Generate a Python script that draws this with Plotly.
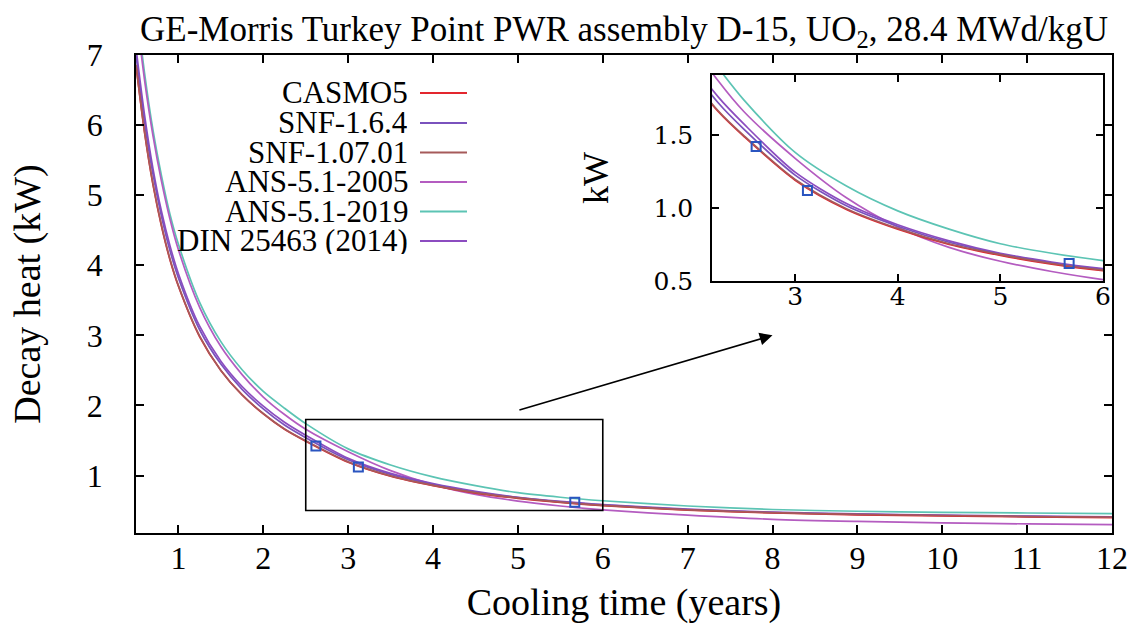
import plotly.graph_objects as go

# ---------------- data ----------------
cooling_time = [0.5, 0.6, 0.7, 0.8, 0.9, 1.0, 1.25, 1.5, 1.75, 2.0, 2.25, 2.5,
                3.0, 3.5, 4.0, 4.5, 5.0, 5.5, 6.0, 7.0, 8.0, 9.0, 10.0, 11.0, 12.0]

casmo5 = [6.85, 5.90, 5.15, 4.56, 4.08, 3.70, 2.98, 2.50, 2.15, 1.88, 1.66, 1.49,
          1.19, 0.99, 0.855, 0.75, 0.675, 0.615, 0.57, 0.505, 0.465, 0.44, 0.425, 0.41, 0.40]
snf_164 = [7.00, 6.05, 5.30, 4.70, 4.21, 3.82, 3.08, 2.59, 2.23, 1.95, 1.72, 1.54,
           1.225, 1.015, 0.875, 0.765, 0.685, 0.625, 0.58, 0.515, 0.472, 0.447, 0.43, 0.416, 0.405]
snf_10701 = [6.86, 5.91, 5.16, 4.57, 4.09, 3.71, 2.99, 2.50, 2.15, 1.885, 1.665, 1.495,
             1.195, 0.995, 0.86, 0.755, 0.68, 0.62, 0.575, 0.51, 0.47, 0.445, 0.43, 0.415, 0.405]
ans_2005 = [7.65, 6.65, 5.85, 5.20, 4.66, 4.22, 3.40, 2.84, 2.44, 2.12, 1.87, 1.66,
            1.34, 1.07, 0.87, 0.73, 0.635, 0.565, 0.51, 0.435, 0.375, 0.345, 0.325, 0.31, 0.30]
ans_2019 = [7.75, 6.75, 5.93, 5.28, 4.73, 4.30, 3.47, 2.91, 2.51, 2.20, 1.96, 1.74,
            1.38, 1.15, 0.98, 0.855, 0.755, 0.69, 0.64, 0.565, 0.515, 0.49, 0.475, 0.465, 0.457]
din_25463 = [7.10, 6.15, 5.38, 4.77, 4.28, 3.88, 3.13, 2.63, 2.27, 1.99, 1.76, 1.575,
             1.245, 1.03, 0.885, 0.775, 0.69, 0.63, 0.585, 0.52, 0.478, 0.452, 0.435, 0.42, 0.41]

meas_x = [2.62, 3.12, 5.67]
meas_y = [1.42, 1.12, 0.62]

series_names = ["CASMO5", "SNF-1.6.4", "SNF-1.07.01", "ANS-5.1-2005", "ANS-5.1-2019", "DIN 25463 (2014)"]
series_values = [casmo5, snf_164, snf_10701, ans_2005, ans_2019, din_25463]
series_colors = ["#e3262e", "#7a52bd", "#a65a5a", "#b45cc0", "#5cc4b4", "#8c4cc0"]

x_ticks = list(range(1, 13))
y_ticks = list(range(1, 8))
inset_x_ticks = [3, 4, 5, 6]
inset_y_ticks = [0.5, 1.0, 1.5]

# zoom box and arrow (data coordinates)
zoom_box = dict(x0=2.5, x1=6.0, y0=0.5, y1=1.8)
arrow_from = (5.0, 1.93)
arrow_to = (8.0, 3.0)

W, H = 1130, 624
SERIF = "Liberation Serif"


def f(size, family=SERIF):
    return dict(family=family, size=size, color="black")


fig = go.Figure()

# draw order: put CASMO5 and SNF-1.07.01 on top
order = [4, 3, 5, 1, 0, 2]
for ax_x, ax_y in (("x", "y"), ("x2", "y2")):
    for i in order:
        fig.add_trace(go.Scatter(
            x=cooling_time, y=series_values[i], mode="lines",
            line=dict(color=series_colors[i], width=1.7, shape="spline", smoothing=0.8),
            name=series_names[i], showlegend=False, xaxis=ax_x, yaxis=ax_y,
            hoverinfo="skip"))
    fig.add_trace(go.Scatter(
        x=meas_x, y=meas_y, mode="markers",
        marker=dict(symbol="square-open", size=9, color="#2a55c0", line=dict(width=2, color="#2a55c0")),
        showlegend=False, xaxis=ax_x, yaxis=ax_y, hoverinfo="skip"))

axis_common = dict(showline=True, linecolor="black", linewidth=1.5, mirror="ticks",
                   ticks="inside", tickcolor="black", tickwidth=1.5, showgrid=False,
                   zeroline=False, automargin=False)

# main plot area: px 136..1112 horizontally, 55..533 vertically
fig.update_layout(
    template="none",
    width=W, height=H, autosize=False,
    font=f(32),
    margin=dict(l=0, r=0, t=0, b=0, pad=0),
    paper_bgcolor="white", plot_bgcolor="white",
    showlegend=False,
    xaxis=dict(domain=[136 / W, 1112 / W], range=[0.5, 12], tickvals=x_ticks,
               ticklen=8, tickfont=f(32), ticklabelstandoff=-4,
               title=dict(text="Cooling time (years)", font=f(38), standoff=17),
               anchor="y", **axis_common),
    yaxis=dict(domain=[1 - 533 / H, 1 - 55 / H], range=[0.18, 7], tickvals=y_ticks,
               ticklen=8, tickfont=f(32), ticklabelstandoff=25,
               title=dict(text="Decay heat (kW)", font=f(38), standoff=35),
               anchor="x", **axis_common),
    xaxis2=dict(domain=[712 / W, 1103 / W], range=[2.19, 6], tickvals=inset_x_ticks,
                ticklen=7, tickfont=f(25, "DejaVu Serif"), ticklabelstandoff=-8,
                anchor="y2", **axis_common),
    yaxis2=dict(domain=[1 - 281 / H, 1 - 75 / H], range=[0.5, 1.91], tickvals=inset_y_ticks,
                tickformat=".1f", ticklen=7, tickfont=f(25, "DejaVu Serif"), ticklabelstandoff=12,
                title=dict(text="kW", font=f(36), standoff=34),
                anchor="x2", **axis_common),
)

shapes = [dict(type="rect", xref="x", yref="y", line=dict(color="black", width=1.6),
               fillcolor="rgba(0,0,0,0)", **zoom_box)]

annotations = [
    dict(text="GE-Morris Turkey Point PWR assembly D-15, UO<sub>2</sub>, 28.4 MWd/kgU",
         x=624 / W, y=1 - 31 / H, xref="paper", yref="paper", showarrow=False,
         font=f(35), xanchor="center", yanchor="middle"),
    dict(x=arrow_to[0], y=arrow_to[1], ax=arrow_from[0], ay=arrow_from[1],
         xref="x", yref="y", axref="x", ayref="y", showarrow=True, text="",
         arrowhead=2, arrowsize=1.6, arrowwidth=1.6, arrowcolor="black"),
]

# manual legend: right-aligned labels with line samples to the right
legend_rows_px = [93, 123, 152.5, 182, 211.5, 241]
for name, color, ypx in zip(series_names, series_colors, legend_rows_px):
    annotations.append(dict(text=name, x=410 / W, y=1 - (ypx - 1) / H, xref="paper", yref="paper",
                            showarrow=False, xanchor="right", yanchor="middle", font=f(31),
                            height=28, valign="middle"))
    shapes.append(dict(type="line", xref="paper", yref="paper", x0=420 / W, x1=467 / W,
                       y0=1 - ypx / H, y1=1 - ypx / H, line=dict(color=color, width=2)))

fig.update_layout(shapes=shapes, annotations=annotations)

fig.write_html("out.html", config={"displayModeBar": False},
               post_script="document.body.style.margin='0';document.body.style.padding='0';")
